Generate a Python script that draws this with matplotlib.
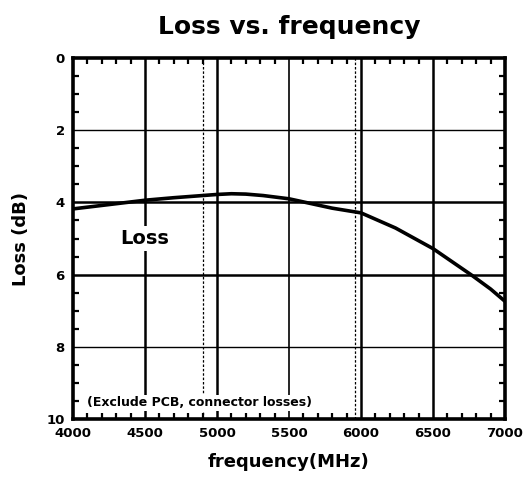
import matplotlib.pyplot as plt
from matplotlib.ticker import MultipleLocator

# curve
freq = [4000, 4250, 4500, 4700, 4900, 5000, 5100, 5200, 5320, 5500, 5650,
        5800, 6000, 6240, 6500, 6770, 6900, 7000]
loss = [4.18, 4.06, 3.94, 3.87, 3.81, 3.78, 3.76, 3.77, 3.81, 3.90, 4.03,
        4.16, 4.29, 4.71, 5.28, 6.02, 6.40, 6.74]

thick_x = [4500, 5000, 6000, 6500]
thin_x = [5500]
thick_y = [4, 6]
thin_y = [2, 8]
dotted_x = [4900, 5955]

plt.rcParams['font.family'] = ['DejaVu Sans']
plt.rcParams['font.weight'] = 'bold'

fig = plt.figure(figsize=(5.24, 4.84), dpi=100)
ax = fig.add_axes([73 / 524, 1 - 419 / 484, 432 / 524, 361 / 484])

for x in thick_x:
    ax.axvline(x, color='black', lw=1.8, zorder=1)
for x in thin_x:
    ax.axvline(x, color='black', lw=1.2, zorder=1)
for y in thick_y:
    ax.axhline(y, color='black', lw=1.8, zorder=1)
for y in thin_y:
    ax.axhline(y, color='black', lw=1.0, zorder=1)
for x in dotted_x:
    ax.axvline(x, color='black', lw=0.9, ls=(0, (2, 1.5)), zorder=1)

ax.plot(freq, loss, color='black', lw=2.6, zorder=3)

ax.set_xlim(4000, 7000)
ax.set_ylim(10, 0)
ax.xaxis.set_major_locator(MultipleLocator(500))
ax.xaxis.set_minor_locator(MultipleLocator(100))
ax.yaxis.set_major_locator(MultipleLocator(2))
ax.yaxis.set_minor_locator(MultipleLocator(0.5))
ax.tick_params(which='both', direction='in', top=True, right=True,
               labelsize=9.5, width=1.6)
ax.tick_params(which='major', length=0, pad=6)
ax.tick_params(which='minor', length=4)
for lab in ax.get_xticklabels() + ax.get_yticklabels():
    lab.set_fontweight('bold')
for s in ax.spines.values():
    s.set_linewidth(2.6)

ax.text(4500, 5.0, 'Loss', fontsize=14, fontweight='bold',
        ha='center', va='center', zorder=4,
        bbox=dict(facecolor='white', edgecolor='none', pad=2))
ax.text(4100, 9.55, '(Exclude PCB, connector losses)', fontsize=9,
        fontweight='bold', ha='left', va='center', zorder=4,
        bbox=dict(facecolor='white', edgecolor='none', pad=1))

ax.set_xlabel('frequency(MHz)', fontsize=13, fontweight='bold', labelpad=9)
ax.set_ylabel('Loss (dB)', fontsize=13, fontweight='bold', labelpad=12)
ax.set_title('Loss vs. frequency', fontsize=18, fontweight='bold', pad=17)

fig.savefig('out.png', dpi=100)
